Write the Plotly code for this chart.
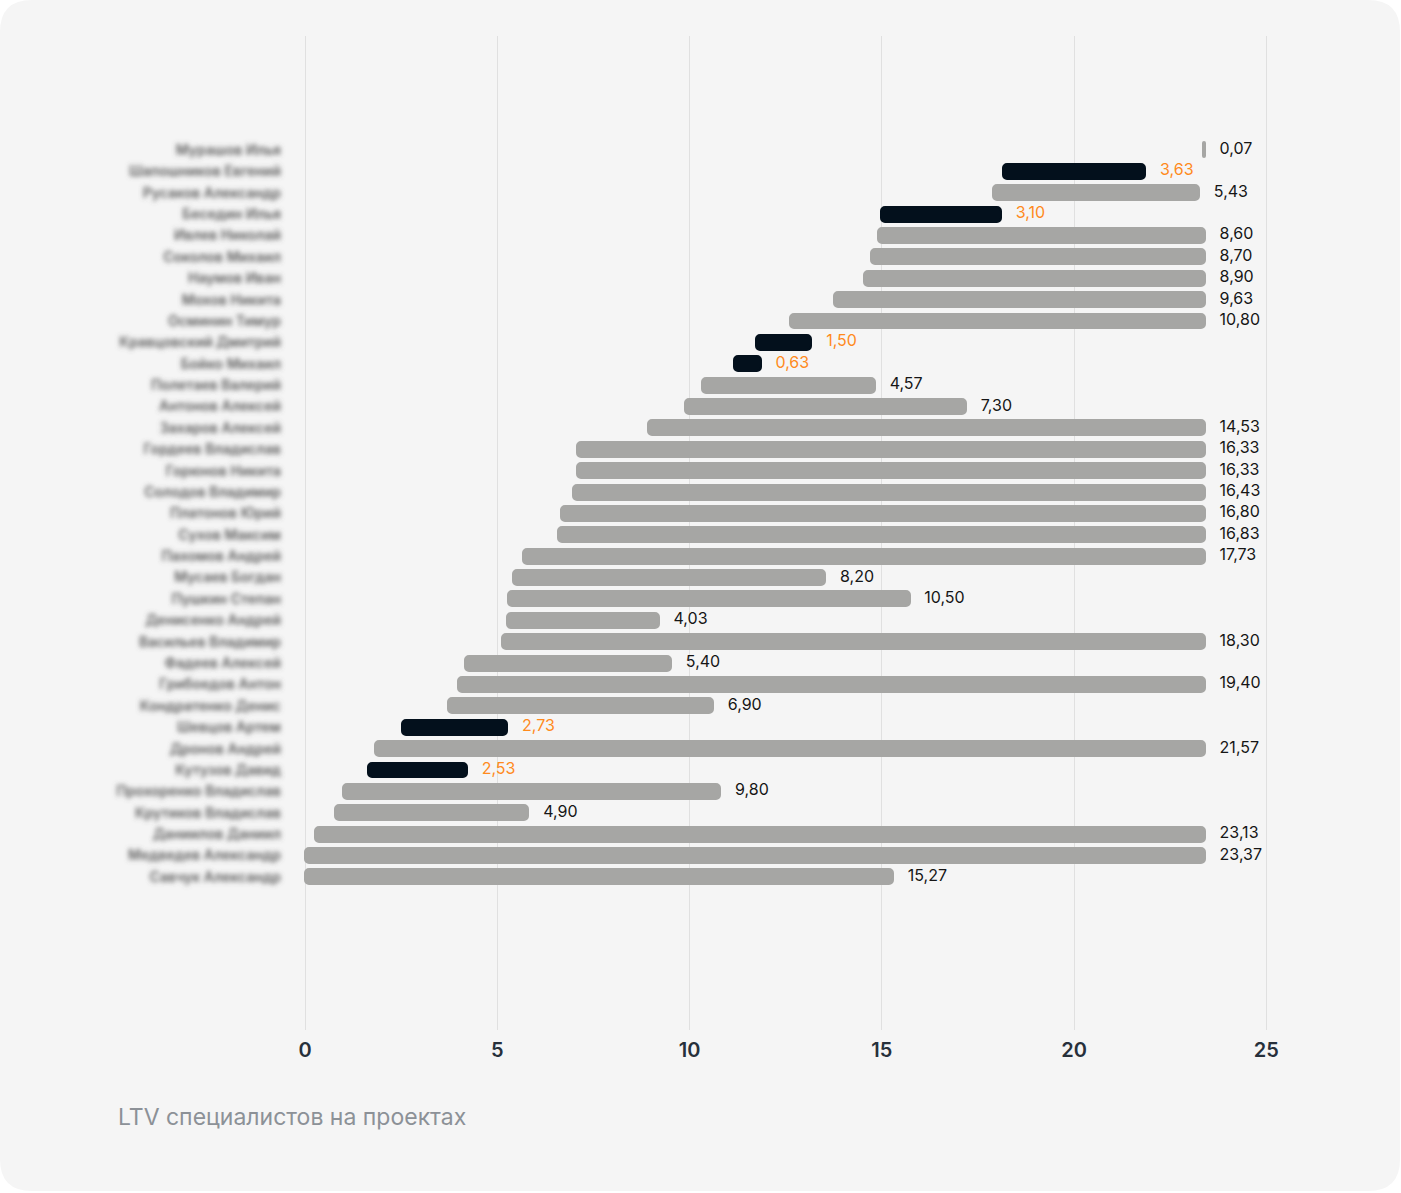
import plotly.graph_objects as go

# Специалисты сверху вниз, как на графике
names = [
    "Мурашов Илья", "Шапошников Евгений", "Русаков Александр", "Беседин Илья",
    "Ивлев Николай", "Соколов Михаил", "Наумов Иван", "Мохов Никита",
    "Осминин Тимур", "Кравцовский Дмитрий", "Бойко Михаил", "Полетаев Валерий",
    "Антонов Алексей", "Захаров Алексей", "Гордеев Владислав", "Горюнов Никита",
    "Солодов Владимир", "Платонов Юрий", "Сухов Максим", "Пахомов Андрей",
    "Мусаев Богдан", "Пушкин Степан", "Денисенко Андрей", "Васильев Владимир",
    "Фадеев Алексей", "Грибоедов Антон", "Кондратенко Денис", "Шевцов Артем",
    "Дронов Андрей", "Кутузов Давид", "Прохоренко Владислав", "Крутиков Владислав",
    "Даниилов Даниил", "Медведев Александр", "Савчук Александр",
]
# начало и конец работы на проекте (месяцы)
start = [
    23.34, 18.15, 17.88, 14.99, 14.89, 14.73, 14.53, 13.75, 12.62, 11.72,
    11.16, 10.32, 9.88, 8.92, 7.08, 7.08, 6.96, 6.65, 6.58, 5.68,
    5.40, 5.28, 5.25, 5.13, 4.15, 3.99, 3.72, 2.51, 1.81, 1.65,
    1.00, 0.79, 0.25, 0.00, 0.00,
]
end = [
    23.40, 21.85, 23.25, 18.10, 23.40, 23.40, 23.40, 23.40, 23.40, 13.17,
    11.85, 14.82, 17.19, 23.40, 23.40, 23.40, 23.40, 23.40, 23.40, 23.40,
    13.53, 15.72, 9.20, 23.40, 9.52, 23.40, 10.61, 5.26, 23.40, 4.21,
    10.80, 5.81, 23.40, 23.40, 15.29,
]
ltv = [
    0.07, 3.63, 5.43, 3.10, 8.60, 8.70, 8.90, 9.63, 10.80, 1.50,
    0.63, 4.57, 7.30, 14.53, 16.33, 16.33, 16.43, 16.80, 16.83, 17.73,
    8.20, 10.50, 4.03, 18.30, 5.40, 19.40, 6.90, 2.73, 21.57, 2.53,
    9.80, 4.90, 23.13, 23.37, 15.27,
]
# ушёл с проекта
left = [
    False, True, False, True, False, False, False, False, False, True,
    True, False, False, False, False, False, False, False, False, False,
    False, False, False, False, False, False, False, True, False, True,
    False, False, False, False, False,
]
x_ticks = [0, 5, 10, 15, 20, 25]
caption = "LTV специалистов на проектах"

GREY = "#a6a6a4"
DARK = "#03101c"
ORANGE = "#ff8a1c"
FONT = "Inter"

bar_colors = [DARK if f else GREY for f in left]
text_colors = [ORANGE if f else "#161616" for f in left]
labels = [f"{v:.2f}".replace(".", ",") for v in ltv]

W, H = 1401, 1193
ML, MR, MT, MB = 300, 120, 36, 163
pw, ph = W - ML - MR, H - MT - MB


def px(x):
    return (x - ML) / pw


def py(y):
    return (H - MB - y) / ph


fig = go.Figure()
fig.add_trace(go.Bar(
    y=names,
    x=[e - s for s, e in zip(start, end)],
    base=start,
    orientation="h",
    width=0.7,
    marker=dict(color=bar_colors, line=dict(color=bar_colors, width=2), cornerradius=4),
    hoverinfo="skip",
))
fig.add_trace(go.Scatter(
    y=names,
    x=end,
    mode="markers+text",
    text=labels,
    textposition="middle right",
    textfont=dict(family=FONT, size=16, color=text_colors),
    marker=dict(size=22, opacity=0),
    cliponaxis=False,
    hoverinfo="skip",
))

# карточка со скруглёнными углами
r = 32
x0, x1, y0, y1 = 0, 1400, 0, 1191
card = (
    f"M {px(x0 + r)},{py(y0)} L {px(x1 - r)},{py(y0)} Q {px(x1)},{py(y0)} {px(x1)},{py(y0 + r)} "
    f"L {px(x1)},{py(y1 - r)} Q {px(x1)},{py(y1)} {px(x1 - r)},{py(y1)} "
    f"L {px(x0 + r)},{py(y1)} Q {px(x0)},{py(y1)} {px(x0)},{py(y1 - r)} "
    f"L {px(x0)},{py(y0 + r)} Q {px(x0)},{py(y0)} {px(x0 + r)},{py(y0)} Z"
)
fig.add_shape(type="path", path=card, xref="paper", yref="paper",
              fillcolor="#f5f5f5", line=dict(width=0), layer="below")

fig.add_annotation(
    text=caption, xref="paper", yref="paper",
    x=px(116), y=py(1117), xanchor="left", yanchor="middle", showarrow=False,
    font=dict(family=FONT, size=23, color="#8c9197"),
)

fig.update_layout(
    width=W, height=H, autosize=False,
    margin=dict(l=ML, r=MR, t=MT, b=MB),
    paper_bgcolor="white",
    plot_bgcolor="rgba(0,0,0,0)",
    showlegend=False,
    bargap=0,
    xaxis=dict(
        range=[-0.13, 25.38],
        tickvals=x_ticks,
        showgrid=True, gridcolor="#e0e0e0", gridwidth=1,
        zeroline=False, showline=False, ticks="",
        tickfont=dict(family=FONT, size=20, color="#27303b", weight=600),
        ticklabelstandoff=6,
    ),
    yaxis=dict(
        type="category",
        range=[41.16, -5.33],
        showgrid=False, zeroline=False, showline=False, ticks="",
        tickfont=dict(family=FONT, size=14, color="#5a5a5a", weight=600),
        ticklabelstandoff=18,
    ),
)

# имена размыты, как в исходнике; страница без полей браузера
blur_js = """
document.body.style.margin = '0';
var gd = document.getElementById('{plot_id}');
function blurNames() {
  var svg = gd.querySelector('svg.main-svg');
  var ns = 'http://www.w3.org/2000/svg';
  if (!document.getElementById('name-blur')) {
    var defs = svg.querySelector('defs');
    if (!defs) { defs = document.createElementNS(ns, 'defs'); svg.insertBefore(defs, svg.firstChild); }
    var f = document.createElementNS(ns, 'filter');
    f.setAttribute('id', 'name-blur');
    f.setAttribute('x', '-20%'); f.setAttribute('y', '-60%');
    f.setAttribute('width', '140%'); f.setAttribute('height', '220%');
    var g = document.createElementNS(ns, 'feGaussianBlur');
    g.setAttribute('stdDeviation', '2.4');
    f.appendChild(g);
    defs.appendChild(f);
  }
  gd.querySelectorAll('.ytick text').forEach(function(t) { t.setAttribute('filter', 'url(#name-blur)'); });
}
blurNames();
gd.on('plotly_afterplot', blurNames);
"""

fig.write_html("out.html", post_script=blur_js, config={"displayModeBar": False})
